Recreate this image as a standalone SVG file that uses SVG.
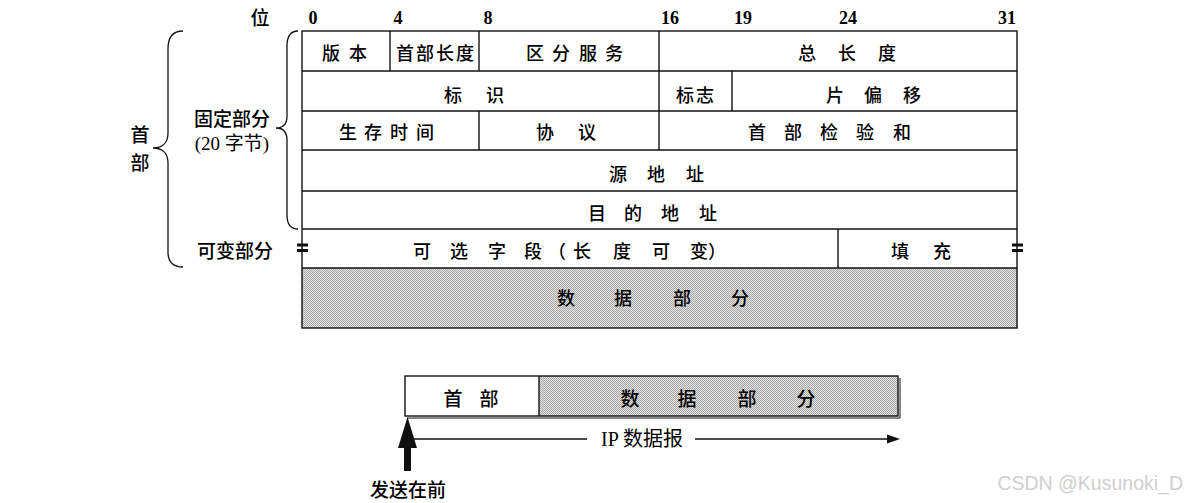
<svg xmlns="http://www.w3.org/2000/svg" width="1189" height="503" viewBox="0 0 1189 503">
<style>
.t{font-family:"Noto Sans CJK SC","Liberation Sans",sans-serif;font-size:18px;font-weight:500;fill:#000;text-anchor:middle;dominant-baseline:central}
.n{font-family:"Liberation Serif","Noto Sans CJK SC",serif;font-size:18px;font-weight:bold;fill:#000;text-anchor:middle}
.s{font-family:"Liberation Serif","Noto Sans CJK SC",serif;font-size:19px;fill:#000;text-anchor:middle;dominant-baseline:central}
.ln{stroke:#111;stroke-width:1.4;fill:none}
.br{stroke:#111;stroke-width:1.3;fill:none}
.wm{font-family:"Liberation Sans",sans-serif;font-size:19.5px;fill:#cfcfcf;text-anchor:end}
</style>
<defs>
<pattern id="ht" width="2" height="2" patternUnits="userSpaceOnUse">
<rect width="2" height="2" fill="#e2e2e2"/>
<rect width="1" height="1" fill="#a8a8a8"/>
<rect x="1" y="1" width="1" height="1" fill="#a8a8a8"/>
</pattern>
</defs>
<rect width="1189" height="503" fill="#fff"/>

<g id="bits">
<text class="t" x="260" y="16" style="font-size:19px">位</text>
<text class="n" x="313" y="24">0</text>
<text class="n" x="398" y="24">4</text>
<text class="n" x="488" y="24">8</text>
<text class="n" x="670" y="24">16</text>
<text class="n" x="743" y="24">19</text>
<text class="n" x="848" y="24">24</text>
<text class="n" x="1007" y="24">31</text>
</g>

<g id="table">
<rect x="302" y="268" width="715" height="60" fill="url(#ht)"/>
<rect class="ln" x="302" y="31" width="715" height="297"/>
<path class="ln" d="M302 71H1017M302 111H1017M302 150H1017M302 191H1017M302 229H1017M302 268H1017"/>
<path class="ln" d="M390 31V71M479 31V71M659 31V150M732 71V111M479 111V150M838 229V268"/>
</g>

<g id="version"><text class="t" x="331 358" y="52">版本</text></g>
<g id="ihl"><text class="t" x="405 425 445 465" y="52">首部长度</text></g>
<g id="dscp"><text class="t" x="535 561 588 614" y="52">区分服务</text></g>
<g id="totallen"><text class="t" x="807 847 887" y="52">总长度</text></g>
<g id="ident"><text class="t" x="453 495" y="94">标识</text></g>
<g id="flags"><text class="t" x="685 705" y="94">标志</text></g>
<g id="fragoff"><text class="t" x="835 873 912" y="94">片偏移</text></g>
<g id="ttl"><text class="t" x="348 373 399 425" y="131">生存时间</text></g>
<g id="proto"><text class="t" x="545 587" y="131">协议</text></g>
<g id="checksum"><text class="t" x="757 793 829 865 902" y="131">首部检验和</text></g>
<g id="src"><text class="t" x="618 656 695" y="173">源地址</text></g>
<g id="dst"><text class="t" x="597 633 670 708" y="212">目的地址</text></g>
<g id="options"><text class="t" x="422 459 497 533 557 582 622 661 699 717" y="250">可选字段（长度可变）</text></g>
<g id="padding"><text class="t" x="900 942" y="250">填充</text></g>
<g id="data"><text class="t" x="566 623 682 740" y="297">数据部分</text></g>

<g id="breaks" fill="#111">
<rect x="297" y="243.5" width="11" height="3"/>
<rect x="297" y="249" width="11" height="3"/>
<rect x="1012" y="243.5" width="11" height="3"/>
<rect x="1012" y="249" width="11" height="3"/>
</g>

<g id="braces">
<path class="br" d="M183 31C173 31 168 37 168 49L168 133C168 143 162 148 153 148C162 148 168 153 168 163L168 252C168 262 173 267 183 267"/>
<path class="br" d="M298 31C291 31 287 36 287 46L287 116C287 124 283 128 276 128C283 128 287 132 287 140L287 215C287 224 291 229 298 229"/>
</g>

<g id="labels">
<text class="t" x="140" y="133" style="font-size:19px">首</text>
<text class="t" x="140" y="161" style="font-size:19px">部</text>
<text class="t" x="232" y="117" style="font-size:19px">固定部分</text>
<text class="s" x="232" y="143">(20 字节)</text>
<text class="t" x="235" y="249" style="font-size:19px">可变部分</text>
</g>

<g id="packet">
<rect x="539" y="376" width="359" height="40" fill="url(#ht)"/>
<rect class="ln" x="405" y="376" width="493" height="40"/>
<path class="ln" d="M539 376V416"/>
<path d="M899 377V417H406" stroke="#111" stroke-width="1" fill="none" transform="translate(1 1)"/>
<text class="t" x="453 489" y="397" style="font-size:19px">首部</text>
<text class="t" x="630 687 747 806" y="397" style="font-size:19px">数据部分</text>
</g>

<g id="connectors">
<path d="M413 439H587M695 439H888" stroke="#111" stroke-width="1.5" fill="none"/>
<polygon points="887,434.5 900,439 887,443.5" fill="#111"/>
<rect x="404" y="445" width="7" height="26" fill="#111"/>
<polygon points="407.5,417 398,448 417,448" fill="#111"/>
</g>

<g id="captions">
<text x="642" y="439" style="font-family:'Liberation Serif','Noto Sans CJK SC',serif;font-size:20px;fill:#000;text-anchor:middle;dominant-baseline:central">IP 数据报</text>
<text class="t" x="408" y="488" style="font-size:19px">发送在前</text>
</g>

<text class="wm" x="1183" y="490">CSDN @Kusunoki_D</text>
</svg>
